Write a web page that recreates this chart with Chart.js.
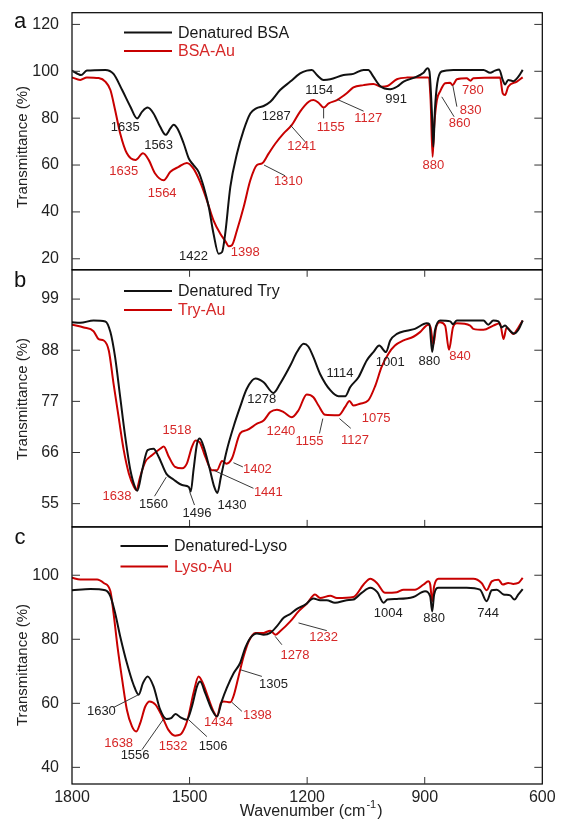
<!DOCTYPE html>
<html>
<head>
<meta charset="utf-8">
<script src="https://cdn.jsdelivr.net/npm/chart.js@4.4.1/dist/chart.umd.min.js"></script>
<style>
  html, body { margin: 0; padding: 0; background: #fff; }
  #wrap { position: relative; width: 562px; height: 823px; }
</style>
</head>
<body>
<div id="wrap"><canvas id="ftir"></canvas></div>
<script>
// espectros: [numero de onda, transmitancia]
const bsaDenatured = [[1800,100.3],[1777,98.4],[1762,100.3],[1715,100.6],[1694,98.9],[1672,92],[1651,84.9],[1634,79.9],[1621,82.8],[1607,84.5],[1592,82],[1575,76.3],[1561,72.9],[1549,75.6],[1541,77.2],[1531,75.6],[1515,69.2],[1502,62.8],[1490,60],[1477,57.1],[1464,50.7],[1451,42.1],[1439,30.8],[1426,22.2],[1417,22.9],[1409,30.8],[1396,50.7],[1379,64.9],[1362,74.9],[1345,82],[1330,84.2],[1311,85.2],[1294,87],[1269,92],[1243,95.6],[1218,99.1],[1201,100.3],[1188,100.6],[1175,98.4],[1158,96.3],[1141,96.6],[1107,98.4],[1082,98.9],[1056,100.6],[1044,100.6],[1031,97.7],[1014,93.7],[988,92.3],[971,93.4],[954,95.6],[925,97.4],[903,99.4],[893,101.3],[888,99.9],[882,83.5],[878,67.8],[874,83.5],[868,94.9],[857,99.9],[827,100.6],[750,100.6],[733,99.4],[721,100.3],[710,100.8],[701,96.3],[695,94.4],[687,96.3],[674,95.8],[661,97.7],[650,100.6]];
const bsaAu = [[1800,97.4],[1779,96.3],[1762,97.4],[1732,97.1],[1715,95.6],[1702,92],[1690,83.5],[1677,73.5],[1660,65],[1638,62.1],[1619,65],[1604,62.1],[1588,56.4],[1566,53.5],[1549,57.1],[1528,59.2],[1507,60.9],[1490,58.5],[1473,52.8],[1456,45],[1439,36.4],[1422,30.8],[1409,27.6],[1400,25.4],[1392,25.8],[1379,32.2],[1362,42.1],[1345,53.5],[1328,60],[1315,60.7],[1298,65],[1281,69.2],[1260,73.5],[1239,77.1],[1218,82.8],[1196,87],[1184,87.7],[1171,86.6],[1158,84.5],[1145,86.3],[1124,87.7],[1099,90.6],[1082,93.1],[1056,94.1],[1031,94.6],[1010,93.4],[995,93.7],[971,96.6],[946,97.3],[891,97.4],[885,87.7],[880,63.5],[876,76.3],[869,87.7],[861,91.3],[848,94.9],[835,95.1],[829,94.1],[818,96.6],[793,97],[783,96],[776,97],[708,97.4],[701,90.6],[695,89.9],[687,93.4],[665,95.6],[650,97.4]];
const tryDenatured = [[1800,94],[1779,93.9],[1745,94.4],[1715,94.2],[1702,91.9],[1690,86.5],[1677,77.9],[1664,69.3],[1651,62.2],[1638,58.3],[1633,57.8],[1621,62.2],[1607,66.5],[1592,66.8],[1579,65.1],[1559,61.4],[1541,60.2],[1519,59],[1502,58.6],[1497,57.6],[1490,62.2],[1481,67.9],[1474,69],[1464,67.2],[1449,62.6],[1437,58.6],[1429,57.3],[1420,60.8],[1405,66.5],[1388,71.5],[1371,75.8],[1354,79.7],[1332,81.9],[1311,81.1],[1286,78.8],[1269,80.8],[1243,84.7],[1226,87.6],[1209,89.4],[1197,88.8],[1184,86.5],[1167,82.9],[1141,79.4],[1120,78.1],[1103,78.1],[1090,80.1],[1069,82.2],[1048,85.8],[1031,87.6],[1016,89],[999,87.6],[988,90.1],[971,91.5],[946,92.2],[925,92.6],[895,93.8],[888,93.6],[881,87.6],[874,92.2],[861,94.4],[835,94.2],[828,93.6],[818,94.4],[750,94.4],[738,93.5],[725,94.4],[712,94.2],[704,92.9],[695,93.3],[687,92.6],[672,91.6],[661,92.4],[650,94.4]];
const tryAu = [[1800,93.5],[1770,92.9],[1745,92.1],[1732,90.4],[1719,90.1],[1706,87.9],[1694,80.8],[1681,73.6],[1668,66.5],[1655,61.5],[1642,58.6],[1636,57.9],[1626,60.8],[1613,64],[1596,65.4],[1575,66.8],[1566,67.3],[1553,65.1],[1537,62.9],[1519,62.6],[1507,63.6],[1494,67.2],[1485,68.6],[1474,68.2],[1460,65.1],[1443,62.2],[1430,62.2],[1417,64.2],[1406,63.6],[1392,64.7],[1371,70.1],[1354,70.8],[1328,72.2],[1311,72.9],[1294,74.7],[1277,75.2],[1260,74.7],[1239,73.6],[1222,75.1],[1201,78.5],[1184,77.9],[1171,76.1],[1154,74.1],[1120,74],[1103,75.8],[1092,77.1],[1082,76.1],[1065,76.5],[1044,77.2],[1026,80.4],[1010,84.4],[993,87.2],[976,89],[954,90.1],[929,90.9],[912,91.9],[891,93.5],[885,92.9],[878,89.2],[871,92.9],[861,94],[848,93.3],[838,88.1],[828,92.9],[818,93.8],[784,93.3],[776,92.6],[750,92.4],[725,93.3],[708,93.8],[699,90.4],[691,92.9],[674,91.5],[661,92.9],[650,94.4]];
const lysoDenatured = [[1800,95.3],[1753,95.7],[1715,95.3],[1702,93.4],[1690,88.2],[1677,80.9],[1660,72.6],[1643,65.8],[1630,62.7],[1619,66.3],[1607,68.4],[1592,65.3],[1575,58],[1559,55.1],[1547,55.4],[1536,56.7],[1524,55.7],[1507,54.9],[1494,59],[1481,65.3],[1473,66.8],[1460,63.2],[1443,58],[1430,55.9],[1418,60.6],[1405,64.8],[1388,69.3],[1371,72.6],[1358,77.3],[1345,80.4],[1328,81.8],[1311,81.4],[1294,82],[1277,84.1],[1260,86.7],[1243,87.9],[1226,89.5],[1205,90.8],[1184,92.7],[1167,92.2],[1150,92.2],[1129,91.4],[1099,92.2],[1082,92.4],[1061,94.5],[1039,96.1],[1021,94.7],[1005,91.4],[995,92.4],[971,92.6],[929,93.2],[899,95],[886,93.4],[881,88.7],[876,94],[865,96.1],[793,96.1],[759,95.5],[742,91.9],[729,95.3],[716,95.5],[699,94],[682,93.7],[671,92.4],[661,94],[650,95.7]];
const lysoAu = [[1800,99.2],[1779,98.7],[1736,98.7],[1719,97.6],[1702,95],[1694,88.2],[1684,77.8],[1672,67.4],[1660,58],[1647,52.8],[1636,51.2],[1626,53.8],[1613,59],[1602,60.6],[1587,59.6],[1570,55.9],[1554,51.7],[1537,49.9],[1524,50.2],[1511,52.8],[1503,55.9],[1490,63.2],[1477,68.4],[1466,66.3],[1452,61.6],[1439,57.5],[1430,55.9],[1420,60.1],[1413,60.6],[1396,60.3],[1388,62.2],[1375,68.4],[1362,74.7],[1349,79.4],[1332,82],[1311,82],[1294,82.7],[1281,81.4],[1269,82.5],[1243,85.6],[1222,88.7],[1201,91.1],[1180,94],[1167,92.9],[1141,93.6],[1124,92.9],[1082,93.2],[1056,97.1],[1039,98.9],[1022,97.6],[1001,94.5],[971,94.7],[954,95.5],[925,95.5],[903,97.1],[891,98.1],[886,97.1],[881,91.9],[876,96.6],[865,98.9],[776,98.9],[755,97.6],[742,95.3],[729,98.1],[712,98.6],[701,97.1],[687,97.6],[674,97.3],[661,97.6],[650,99.2]];

// marcas de los ejes
const xTicks = [1800, 1500, 1200, 900, 600];
const bsaTicks = [20, 40, 60, 80, 100, 120];
const tryTicks = [55, 66, 77, 88, 99];
const lysoTicks = [40, 60, 80, 100];

// etiquetas de picos: [texto, numero de onda, valor, color, linea guia]
const bsaPeaks = [
  ['1635', 1664, 76.1, 'k'], ['1563', 1579, 68.2, 'k'], ['1635', 1668, 57.1, 'r'], ['1564', 1570, 47.9, 'r'],
  ['1422', 1490, 21.1, 'k'], ['1398', 1358, 22.6, 'r'], ['1287', 1279, 80.9, 'k'],
  ['1241', 1214, 67.8, 'r', [1243, 77.1, 1205, 69.9]], ['1310', 1248, 52.8, 'r', [1310, 60, 1256, 55.4]],
  ['1154', 1169, 92, 'k'], ['1155', 1140, 76.1, 'r', [1158, 84.2, 1158, 79.9]],
  ['1127', 1044, 79.9, 'r', [1123, 88, 1056, 83]], ['991', 973, 88, 'k'], ['880', 878, 59.7, 'r'],
  ['780', 777, 91.7, 'r'], ['830', 783, 83.2, 'r', [828.5, 94.1, 818, 84.9]], ['860', 811, 77.8, 'r', [856.5, 89.1, 825, 80.6]]
];
const tryPeaks = [
  ['1518', 1532, 70.8, 'r'], ['1638', 1685, 56.5, 'r'], ['1560', 1592, 54.9, 'k', [1559.5, 60.7, 1589.4, 56.6]],
  ['1496', 1481, 52.9, 'k', [1500, 57.6, 1487.4, 54.7]], ['1430', 1392, 54.7, 'k'],
  ['1402', 1327, 62.4, 'r', [1388, 63.8, 1364, 62.9]], ['1441', 1299, 57.4, 'r', [1439, 62.2, 1337, 58.3]],
  ['1278', 1316, 77.4, 'k'], ['1240', 1267, 70.6, 'r'], ['1155', 1194, 68.3, 'r', [1160, 73.3, 1168.6, 70.1]],
  ['1114', 1116, 83.1, 'k'], ['1127', 1078, 68.7, 'r', [1117.6, 73.3, 1088.6, 71.2]], ['1075', 1024, 73.3, 'r'],
  ['1001', 988, 85.3, 'k'], ['880', 888, 85.6, 'k'], ['840', 810, 86.7, 'r']
];
const lysoPeaks = [
  ['1630', 1725, 57.5, 'k', [1694, 58.7, 1630, 62.7]], ['1638', 1681, 47.6, 'r'],
  ['1556', 1639, 43.6, 'k', [1621.5, 45.5, 1566.4, 55.1]], ['1532', 1542, 46.5, 'r'],
  ['1506', 1440, 46.6, 'k', [1455.8, 49.6, 1502.7, 54.9]], ['1434', 1426, 54.1, 'r'],
  ['1398', 1327, 56.1, 'r', [1366.5, 57.5, 1392, 60.3]], ['1305', 1286, 65.8, 'k', [1315.5, 68.4, 1370.8, 70.5]],
  ['1278', 1231, 75.1, 'r', [1264.5, 78.3, 1281.6, 80.9]], ['1232', 1158, 80.7, 'r', [1149.8, 82.7, 1222, 85.1]],
  ['1004', 993, 88.2, 'k'], ['880', 876, 86.4, 'k'], ['744', 738, 88.2, 'k']
];

const FONT = '"Liberation Sans", Arial, Helvetica, sans-serif';
const NEGRO = '#111111';
const ROJO = '#c80000';
const ROJO_TEXTO = '#d62828';

const panels = [
  { axis: 'ya', letter: 'a', letterY: 22, titleY: 147, names: ['Denatured BSA', 'BSA-Au'], legendY: [32.5, 51], legendX: [124, 172, 178], peaks: bsaPeaks, ticksTop: false, ticksBottom: false },
  { axis: 'yb', letter: 'b', letterY: 281, titleY: 399, names: ['Denatured Try', 'Try-Au'], legendY: [291, 310], legendX: [124, 172, 178], peaks: tryPeaks, ticksTop: true, ticksBottom: true },
  { axis: 'yc', letter: 'c', letterY: 538, titleY: 665, names: ['Denatured-Lyso', 'Lyso-Au'], legendY: [546, 566.5], legendX: [120.5, 168, 174], peaks: lysoPeaks, ticksTop: false, ticksBottom: true }
];

const toPoints = arr => arr.map(p => ({ x: p[0], y: p[1] }));

const serie = (data, color, axis) => ({
  data: toPoints(data),
  yAxisID: axis,
  borderColor: color,
  borderWidth: 2,
  pointRadius: 0,
  cubicInterpolationMode: 'monotone',
  fill: false
});

const yAxis = (min, max, ticks, weight) => ({
  type: 'linear',
  position: 'left',
  stack: 'paneles',
  stackWeight: 1,
  weight: weight,
  min: min,
  max: max,
  grid: { display: false, drawTicks: false },
  border: { display: false },
  afterBuildTicks: s => { s.ticks = ticks.map(v => ({ value: v })); },
  afterFit: s => { s.width = 72; s.paddingTop = 0; s.paddingBottom = 0; },
  ticks: { color: '#222', padding: 13, font: { family: FONT, size: 16 }, callback: v => String(v) }
});

// decoracion: marcos, marcas internas, leyendas y etiquetas
const decoracion = {
  id: 'decoracion',
  afterDraw(chart) {
    const ctx = chart.ctx;
    const area = chart.chartArea;
    const xs = chart.scales.x;
    panels.forEach(p => {
      const ys = chart.scales[p.axis];
      const top = ys.top, bottom = ys.bottom;
      ctx.save();
      ctx.strokeStyle = '#000';
      ctx.lineWidth = 1.2;
      ctx.strokeRect(area.left, top, area.right - area.left, bottom - top);

      ctx.beginPath();
      ctx.lineWidth = 1;
      ctx.strokeStyle = '#333';
      ys.ticks.forEach(t => {
        const y = ys.getPixelForValue(t.value);
        ctx.moveTo(area.left, y); ctx.lineTo(area.left + 8, y);
        ctx.moveTo(area.right, y); ctx.lineTo(area.right - 8, y);
      });
      xs.ticks.forEach(t => {
        const x = xs.getPixelForValue(t.value);
        if (x < area.left + 2 || x > area.right - 2) return;
        if (p.ticksTop) { ctx.moveTo(x, top); ctx.lineTo(x, top + 7); }
        if (p.ticksBottom) { ctx.moveTo(x, bottom); ctx.lineTo(x, bottom - 7); }
      });
      ctx.stroke();

      // letra del panel
      ctx.fillStyle = '#111';
      ctx.font = '22px ' + FONT;
      ctx.textAlign = 'center';
      ctx.textBaseline = 'middle';
      ctx.fillText(p.letter, 20, p.letterY);

      // titulo del eje y
      ctx.save();
      ctx.translate(23, p.titleY);
      ctx.rotate(-Math.PI / 2);
      ctx.font = '15px ' + FONT;
      ctx.fillStyle = '#222';
      ctx.fillText('Transmittance (%)', 0, 0);
      ctx.restore();

      // leyenda
      [NEGRO, ROJO].forEach((c, i) => {
        const y = p.legendY[i];
        ctx.beginPath();
        ctx.strokeStyle = c;
        ctx.lineWidth = 2;
        ctx.moveTo(p.legendX[0], y); ctx.lineTo(p.legendX[1], y);
        ctx.stroke();
        ctx.fillStyle = i === 0 ? '#1a1a1a' : ROJO_TEXTO;
        ctx.font = '16px ' + FONT;
        ctx.textAlign = 'left';
        ctx.fillText(p.names[i], p.legendX[2], y + 1);
      });

      // etiquetas de picos
      ctx.font = '13px ' + FONT;
      ctx.textAlign = 'center';
      p.peaks.forEach(pk => {
        if (pk[4]) {
          const g = pk[4];
          ctx.beginPath();
          ctx.strokeStyle = '#222';
          ctx.lineWidth = 0.9;
          ctx.moveTo(xs.getPixelForValue(g[0]), ys.getPixelForValue(g[1]));
          ctx.lineTo(xs.getPixelForValue(g[2]), ys.getPixelForValue(g[3]));
          ctx.stroke();
        }
        ctx.fillStyle = pk[3] === 'r' ? ROJO_TEXTO : '#222';
        ctx.fillText(pk[0], xs.getPixelForValue(pk[1]), ys.getPixelForValue(pk[2]));
      });
      ctx.restore();
    });

    // titulo del eje x con superindice
    ctx.save();
    ctx.fillStyle = '#222';
    ctx.textBaseline = 'alphabetic';
    ctx.textAlign = 'left';
    const base = 'Wavenumber (cm';
    const sup = '-1';
    const end = ')';
    ctx.font = '16px ' + FONT;
    const w1 = ctx.measureText(base).width;
    const w3 = ctx.measureText(end).width;
    ctx.font = '11px ' + FONT;
    const w2 = ctx.measureText(sup).width + 2;
    const cx = (area.left + area.right) / 2 + 4;
    let x0 = cx - (w1 + w2 + w3) / 2;
    const yb = 816;
    ctx.font = '16px ' + FONT;
    ctx.fillText(base, x0, yb);
    ctx.font = '11px ' + FONT;
    ctx.fillText(sup, x0 + w1 + 1, yb - 8);
    ctx.font = '16px ' + FONT;
    ctx.fillText(end, x0 + w1 + w2, yb);
    ctx.restore();
  }
};

new Chart(document.getElementById('ftir'), {
  type: 'line',
  data: {
    datasets: [
      serie(bsaDenatured, NEGRO, 'ya'),
      serie(bsaAu, ROJO, 'ya'),
      serie(tryDenatured, NEGRO, 'yb'),
      serie(tryAu, ROJO, 'yb'),
      serie(lysoDenatured, NEGRO, 'yc'),
      serie(lysoAu, ROJO, 'yc')
    ]
  },
  options: {
    responsive: true,
    maintainAspectRatio: false,
    animation: false,
    layout: { autoPadding: false, padding: { top: 12.7, right: 19.7, left: 0, bottom: 0 } },
    plugins: { legend: { display: false }, tooltip: { enabled: false } },
    scales: {
      x: {
        type: 'linear',
        reverse: true,
        min: 600,
        max: 1800,
        grid: { display: false, drawTicks: false },
        border: { display: false },
        afterBuildTicks: s => { s.ticks = xTicks.map(v => ({ value: v })); },
        afterFit: s => { s.height = 39; s.paddingLeft = 0; s.paddingRight = 0; },
        ticks: { color: '#222', padding: 4, maxRotation: 0, font: { family: FONT, size: 16 }, callback: v => String(v) }
      },
      ya: yAxis(15.3, 125, bsaTicks, 3),
      yb: yAxis(50, 105.3, tryTicks, 2),
      yc: yAxis(34.8, 115.1, lysoTicks, 1)
    }
  },
  plugins: [decoracion]
});
</script>
</body>
</html>
